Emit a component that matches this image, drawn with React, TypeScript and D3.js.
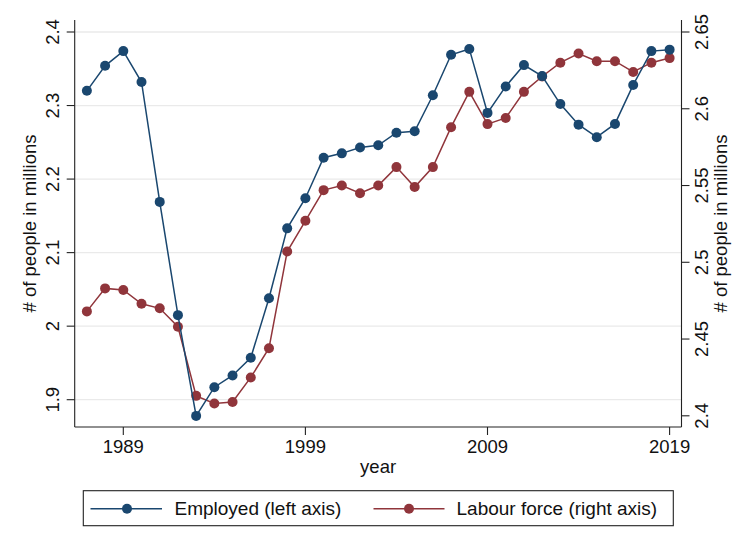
import React from "react";
import * as d3 from "d3";

const years = [1987, 1988, 1989, 1990, 1991, 1992, 1993, 1994, 1995, 1996, 1997, 1998, 1999, 2000, 2001, 2002, 2003, 2004, 2005, 2006, 2007, 2008, 2009, 2010, 2011, 2012, 2013, 2014, 2015, 2016, 2017, 2018, 2019];
const employed = [2.320, 2.354, 2.374, 2.332, 2.169, 2.015, 1.878, 1.917, 1.933, 1.957, 2.038, 2.133, 2.174, 2.229, 2.235, 2.243, 2.246, 2.263, 2.265, 2.314, 2.369, 2.377, 2.290, 2.326, 2.355, 2.340, 2.302, 2.274, 2.257, 2.275, 2.328, 2.374, 2.376];
const labourForce = [2.468, 2.483, 2.482, 2.473, 2.470, 2.458, 2.413, 2.408, 2.409, 2.425, 2.444, 2.507, 2.527, 2.547, 2.550, 2.545, 2.550, 2.562, 2.549, 2.562, 2.588, 2.611, 2.590, 2.594, 2.611, 2.621, 2.630, 2.636, 2.631, 2.631, 2.624, 2.630, 2.633];
const xTicks = [1989, 1999, 2009, 2019];
const leftTicks = [1.9, 2, 2.1, 2.2, 2.3, 2.4];
const rightTicks = [2.4, 2.45, 2.5, 2.55, 2.6, 2.65];
const leftTickLabels = ["1.9", "2", "2.1", "2.2", "2.3", "2.4"];
const rightTickLabels = ["2.4", "2.45", "2.5", "2.55", "2.6", "2.65"];
const seriesNames = ["Employed (left axis)", "Labour force (right axis)"];

const BLUE = "#1a476f";
const RED = "#90353b";
const FONT = "Liberation Sans, Arial, sans-serif";
const FS = 18.5;

export default function App() {
  const W = 756, H = 552;
  const left = 74.7, right = 681.5, top = 20, bottom = 427;

  const x = d3.scaleLinear().domain([1989, 2019]).range([123.3, 669.6]);
  const yL = d3.scaleLinear().domain([1.9, 2.4]).range([399.7, 32]);
  const yR = d3.scaleLinear().domain([2.4, 2.65]).range([415.8, 32]);

  const lineL = d3.line<number>().x((_, i) => x(years[i])).y((d) => yL(d));
  const lineR = d3.line<number>().x((_, i) => x(years[i])).y((d) => yR(d));

  const legendY = 508.7;

  return (
    <div style={{ position: "absolute", left: 0, top: 0 }}>
      <svg width={W} height={H} style={{ display: "block", background: "#fff" }} fontFamily={FONT}>
        <rect x={0} y={0} width={W} height={H} fill="#fff" />
        {leftTicks.map((t) => (
          <line key={"g" + t} x1={left} x2={right} y1={yL(t)} y2={yL(t)} stroke="#eaeaea" strokeWidth={1.3} />
        ))}
        <path d={lineR(labourForce) || ""} fill="none" stroke={RED} strokeWidth={1.5} />
        {labourForce.map((v, i) => (
          <circle key={"r" + i} cx={x(years[i])} cy={yR(v)} r={5} fill={RED} />
        ))}
        <path d={lineL(employed) || ""} fill="none" stroke={BLUE} strokeWidth={1.5} />
        {employed.map((v, i) => (
          <circle key={"b" + i} cx={x(years[i])} cy={yL(v)} r={5} fill={BLUE} />
        ))}
        <line x1={left} x2={left} y1={top} y2={bottom} stroke="#222" strokeWidth={1.1} />
        <line x1={right} x2={right} y1={top} y2={bottom} stroke="#222" strokeWidth={1.1} />
        <line x1={left} x2={right} y1={bottom} y2={bottom} stroke="#222" strokeWidth={1.1} />
        {leftTicks.map((t, i) => (
          <g key={"lt" + t}>
            <line x1={left - 8} x2={left} y1={yL(t)} y2={yL(t)} stroke="#222" strokeWidth={1.1} />
            <text transform={`translate(${59.3},${yL(t)}) rotate(-90)`} textAnchor="middle" fontSize={FS} fill="#111">
              {leftTickLabels[i]}
            </text>
          </g>
        ))}
        {rightTicks.map((t, i) => (
          <g key={"rt" + t}>
            <line x1={right} x2={right + 8} y1={yR(t)} y2={yR(t)} stroke="#222" strokeWidth={1.1} />
            <text transform={`translate(${708.3},${yR(t)}) rotate(-90)`} textAnchor="middle" fontSize={FS} fill="#111">
              {rightTickLabels[i]}
            </text>
          </g>
        ))}
        {xTicks.map((t) => (
          <g key={"xt" + t}>
            <line x1={x(t)} x2={x(t)} y1={bottom} y2={bottom + 8} stroke="#222" strokeWidth={1.1} />
            <text x={x(t)} y={453.3} textAnchor="middle" fontSize={FS} fill="#111">
              {t}
            </text>
          </g>
        ))}
        <text x={(left + right) / 2} y={473.3} textAnchor="middle" fontSize={FS} fill="#111">year</text>
        <text transform={`translate(${35.5},${(top + bottom) / 2}) rotate(-90)`} textAnchor="middle" fontSize={FS} fill="#111">
          # of people in millions
        </text>
        <text transform={`translate(${726.5},${(top + bottom) / 2}) rotate(-90)`} textAnchor="middle" fontSize={FS} fill="#111">
          # of people in millions
        </text>
        <rect x={83.3} y={490.7} width={590} height={35} fill="#fff" stroke="#222" strokeWidth={1.1} />
        <line x1={90.5} x2={162} y1={legendY} y2={legendY} stroke={BLUE} strokeWidth={1.5} />
        <circle cx={127} cy={legendY} r={5} fill={BLUE} />
        <text x={174.5} y={515.2} fontSize={19} fill="#111">{seriesNames[0]}</text>
        <line x1={373.5} x2={444.5} y1={legendY} y2={legendY} stroke={RED} strokeWidth={1.5} />
        <circle cx={409} cy={legendY} r={5} fill={RED} />
        <text x={456.5} y={515.2} fontSize={19} fill="#111">{seriesNames[1]}</text>
      </svg>
    </div>
  );
}
